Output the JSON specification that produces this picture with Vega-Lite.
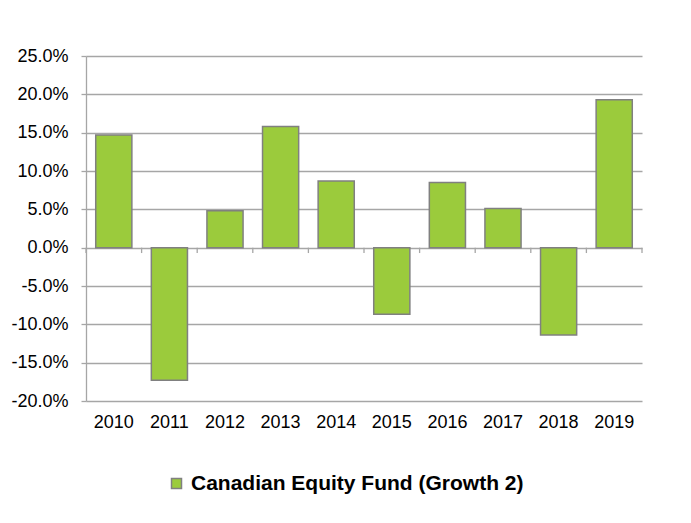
{
  "$schema": "https://vega.github.io/schema/vega-lite/v6.json",
  "width": 556,
  "height": 345,
  "autosize": {"type": "none"},
  "padding": {"left": 86, "top": 56, "right": 49, "bottom": 122},
  "background": "white",
  "config": {"view": {"stroke": null}, "font": "Liberation Sans"},
  "data": {
    "values": [
      {"year": 2010, "value": 0.147, "series": "Canadian Equity Fund (Growth 2)"},
      {"year": 2011, "value": -0.173, "series": "Canadian Equity Fund (Growth 2)"},
      {"year": 2012, "value": 0.048, "series": "Canadian Equity Fund (Growth 2)"},
      {"year": 2013, "value": 0.158, "series": "Canadian Equity Fund (Growth 2)"},
      {"year": 2014, "value": 0.087, "series": "Canadian Equity Fund (Growth 2)"},
      {"year": 2015, "value": -0.087, "series": "Canadian Equity Fund (Growth 2)"},
      {"year": 2016, "value": 0.085, "series": "Canadian Equity Fund (Growth 2)"},
      {"year": 2017, "value": 0.051, "series": "Canadian Equity Fund (Growth 2)"},
      {"year": 2018, "value": -0.114, "series": "Canadian Equity Fund (Growth 2)"},
      {"year": 2019, "value": 0.193, "series": "Canadian Equity Fund (Growth 2)"}
    ]
  },
  "layer": [
    {
      "mark": {"type": "bar", "width": {"band": 0.65}, "stroke": "#808080", "strokeWidth": 1.5},
      "encoding": {
        "x": {
          "field": "year", "type": "ordinal",
          "scale": {"paddingInner": 0, "paddingOuter": 0},
          "axis": {"title": null, "labelAngle": 0, "ticks": false, "domain": false, "grid": false, "labelPadding": 12, "labelFontSize": 18, "labelColor": "#000000", "labelOverlap": false}
        },
        "y": {
          "field": "value", "type": "quantitative",
          "scale": {"domain": [-0.2, 0.25], "nice": false, "zero": false},
          "axis": {
            "title": null,
            "values": [-0.2, -0.15, -0.1, -0.05, 0, 0.05, 0.1, 0.15, 0.2, 0.25],
            "tickCount": 20,
            "labelExpr": "replace(format(datum.value, '.1%'), '\u2212', '-')",
            "labelOverlap": false, "labelBound": false, "labelFlush": false,
            "grid": true, "gridColor": "#a6a6a6", "gridWidth": 1.3,
            "domainColor": "#a6a6a6", "domainWidth": 1.3,
            "tickColor": "#a6a6a6", "tickWidth": 1.3, "tickSize": 5,
            "labelPadding": 13, "labelFontSize": 18, "labelColor": "#000000"
          }
        },
        "color": {
          "field": "series", "type": "nominal",
          "scale": {"range": ["#9BCB3C"]},
          "legend": {
            "orient": "none", "legendX": 80, "legendY": 417,
            "title": null, "direction": "horizontal",
            "labelFontSize": 21, "labelFontWeight": "bold", "labelColor": "#000000", "labelLimit": 1000,
            "symbolType": "square", "symbolSize": 100,
            "symbolStrokeColor": "#808080", "symbolStrokeWidth": 1.5,
            "labelOffset": 4, "padding": 0
          }
        }
      }
    },
    {
      "mark": {"type": "rule", "color": "#a6a6a6", "strokeWidth": 1.3},
      "encoding": {
        "x": {"field": "year", "type": "ordinal", "bandPosition": 0},
        "y": {"datum": 0},
        "y2": {"datum": -0.007}
      }
    },
    {
      "transform": [{"filter": "datum.year == 2019"}],
      "mark": {"type": "rule", "color": "#a6a6a6", "strokeWidth": 1.3},
      "encoding": {
        "x": {"field": "year", "type": "ordinal", "bandPosition": 1},
        "y": {"datum": 0},
        "y2": {"datum": -0.007}
      }
    }
  ]
}
